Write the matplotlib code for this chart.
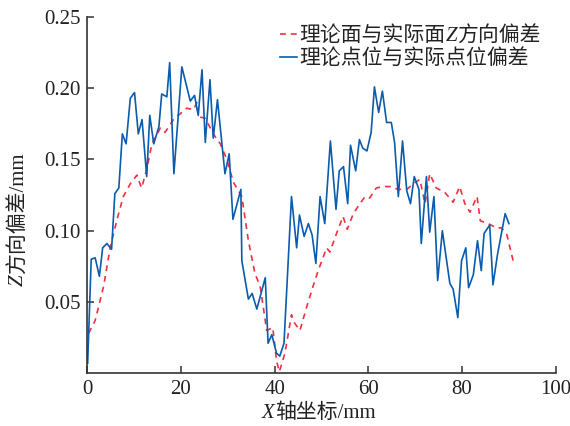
import matplotlib
matplotlib.use("Agg")
import matplotlib.pyplot as plt

# blue: deviation between theoretical and actual point positions
point_x = [0.1, 0.85, 1.7, 2.6, 3.3, 4.2, 5.2, 5.9, 6.75, 7.5, 8.3, 9.2, 10.1, 10.9,
           11.7, 12.7, 13.35, 14.2, 15.3, 15.9, 17.0, 17.6, 18.5, 20.2, 21.1, 22.0,
           22.9, 23.7, 24.5, 25.2, 26.2, 26.9, 27.8, 28.6, 29.4, 30.3, 31.1, 32.8,
           33.0, 34.4, 35.2, 36.2, 38.0, 38.6, 39.4, 40.4, 41.1, 42.0, 43.6, 44.7,
           45.3, 46.3, 47.2, 48.0, 48.8, 49.7, 50.7, 51.9, 53.1, 53.8, 54.7, 55.6,
           56.2, 57.3, 58.1, 58.8, 59.7, 60.6, 61.3, 62.2, 63.0, 63.9, 64.9, 65.6,
           66.4, 67.3, 68.2, 69.0, 69.8, 70.8, 71.3, 72.4, 73.1, 74.0, 74.8, 75.8,
           77.4, 78.1, 79.1, 79.9, 80.8, 81.4, 82.4, 83.3, 84.1, 84.7, 85.9, 86.6,
           87.6, 88.4, 89.2, 90.0]
point_dev = [0.007, 0.080, 0.081, 0.068, 0.088, 0.091, 0.087, 0.126, 0.130, 0.168,
             0.161, 0.193, 0.197, 0.168, 0.178, 0.138, 0.181, 0.161, 0.173, 0.196,
             0.194, 0.218, 0.140, 0.215, 0.203, 0.191, 0.195, 0.181, 0.213, 0.162,
             0.206, 0.165, 0.192, 0.166, 0.140, 0.154, 0.108, 0.129, 0.079, 0.052,
             0.056, 0.045, 0.067, 0.021, 0.027, 0.014, 0.012, 0.021, 0.124, 0.088,
             0.111, 0.096, 0.105, 0.097, 0.077, 0.124, 0.105, 0.163, 0.115, 0.142,
             0.145, 0.119, 0.160, 0.142, 0.164, 0.158, 0.156, 0.169, 0.201, 0.183,
             0.198, 0.176, 0.176, 0.162, 0.124, 0.163, 0.128, 0.119, 0.138, 0.129,
             0.091, 0.138, 0.099, 0.124, 0.065, 0.100, 0.063, 0.059, 0.039, 0.079,
             0.088, 0.060, 0.069, 0.093, 0.072, 0.098, 0.104, 0.062, 0.084, 0.098,
             0.112, 0.105]

# red dashed: theoretical surface vs actual surface, Z direction
surf_x = [0.3, 1.7, 3.5, 4.9, 6.3, 7.7, 9.2, 10.6, 11.6, 12.7, 13.8, 15.6, 16.6,
          18.4, 19.8, 21.2, 22.7, 23.4, 23.7, 25.2, 26.9, 28.4, 29.8, 31.2, 33.0,
          34.4, 35.8, 36.9, 37.6, 38.3, 39.6, 40.4, 41.0, 42.2, 43.6, 44.3, 45.4,
          46.8, 48.2, 49.3, 51.1, 51.8, 53.2, 54.6, 55.5, 56.8, 57.8, 59.3, 60.3,
          61.7, 63.2, 64.6, 66.4, 68.2, 69.6, 71.0, 72.1, 73.1, 74.5, 76.3, 78.1,
          79.5, 80.6, 81.7, 83.2, 83.9, 85.6, 87.3, 88.4, 89.5, 90.9]
surf_dev = [0.028, 0.037, 0.061, 0.088, 0.107, 0.124, 0.133, 0.139, 0.130, 0.143,
            0.161, 0.172, 0.169, 0.178, 0.182, 0.186, 0.185, 0.190, 0.180, 0.179,
            0.168, 0.161, 0.150, 0.134, 0.124, 0.093, 0.070, 0.061, 0.046, 0.030,
            0.032, 0.009, 0.001, 0.014, 0.041, 0.035, 0.030, 0.046, 0.061, 0.072,
            0.088, 0.085, 0.098, 0.110, 0.101, 0.112, 0.117, 0.124, 0.123, 0.130,
            0.131, 0.131, 0.129, 0.129, 0.133, 0.136, 0.119, 0.140, 0.130, 0.127,
            0.120, 0.131, 0.119, 0.113, 0.124, 0.107, 0.105, 0.102, 0.102, 0.098,
            0.079]

x_ticks = [0, 20, 40, 60, 80, 100]
y_ticks = [0.05, 0.10, 0.15, 0.20, 0.25]

FONTS = ["Liberation Serif", "Noto Sans CJK SC"]
FS = 15
TXT = "#222222"
AXC = "#333333"

plt.rcParams["font.family"] = FONTS
plt.rcParams["font.size"] = FS

fig = plt.figure(figsize=(5.7, 4.26), dpi=100)
ax = fig.add_axes([0.153, 0.124, 0.822, 0.836])

ax.plot(surf_x, surf_dev, color="#f03040", lw=1.2, ls=(0, (3.5, 3)),
        label="理论面与实际面")
ax.plot(point_x, point_dev, color="#0a5cad", lw=1.2,
        label="理论点位与实际点位偏差")

ax.set_xlim(0, 100)
ax.set_ylim(0, 0.25)
ax.set_xticks(x_ticks)
ax.set_yticks(y_ticks)
ax.set_yticklabels([f"{v:.2f}" for v in y_ticks])
ax.tick_params(direction="in", length=5, width=1.1, color=AXC,
               labelcolor=TXT, labelsize=FS, pad=5)
for s in ["top", "right"]:
    ax.spines[s].set_visible(False)
for s in ["left", "bottom"]:
    ax.spines[s].set_color(AXC)
    ax.spines[s].set_linewidth(1.2)

# legend (no frame); italic Z appended to the first label
leg = ax.legend(loc="upper left", bbox_to_anchor=(0.491, 0.938),
                bbox_transform=fig.transFigure, frameon=False, fontsize=FS,
                handlelength=0.8, handletextpad=0.15, labelspacing=0.15,
                borderpad=0, borderaxespad=0)
for t in leg.get_texts():
    t.set_color(TXT)
t0 = leg.get_texts()[0]
z_leg = ax.annotate("Z", xy=(1, 0), xycoords=t0, ha="left", va="bottom",
                    fontstyle="italic", fontsize=FS, color=TXT, zorder=10)
ax.annotate("方向偏差", xy=(1, 0), xycoords=z_leg, ha="left", va="bottom",
            fontsize=FS, color=TXT, zorder=11)

# x label: italic X + rest
x_it = fig.text(262 / 570, 1 - 423 / 426, "X", fontstyle="italic",
                ha="left", va="bottom", fontsize=FS, color=TXT)
ax.annotate("轴坐标/mm", xy=(1, 0), xycoords=x_it, ha="left", va="bottom",
            fontsize=FS, color=TXT, annotation_clip=False)

# y label: italic Z + rest, rotated
z_it = fig.text(28 / 570, 1 - 286 / 426, "Z", fontstyle="italic", rotation=90,
                ha="right", va="bottom", fontsize=FS, color=TXT)
ax.annotate("方向偏差/mm", xy=(1, 1), xycoords=z_it, ha="right", va="bottom",
            rotation=90, fontsize=FS, color=TXT, annotation_clip=False)

fig.savefig("out.png", dpi=100)
